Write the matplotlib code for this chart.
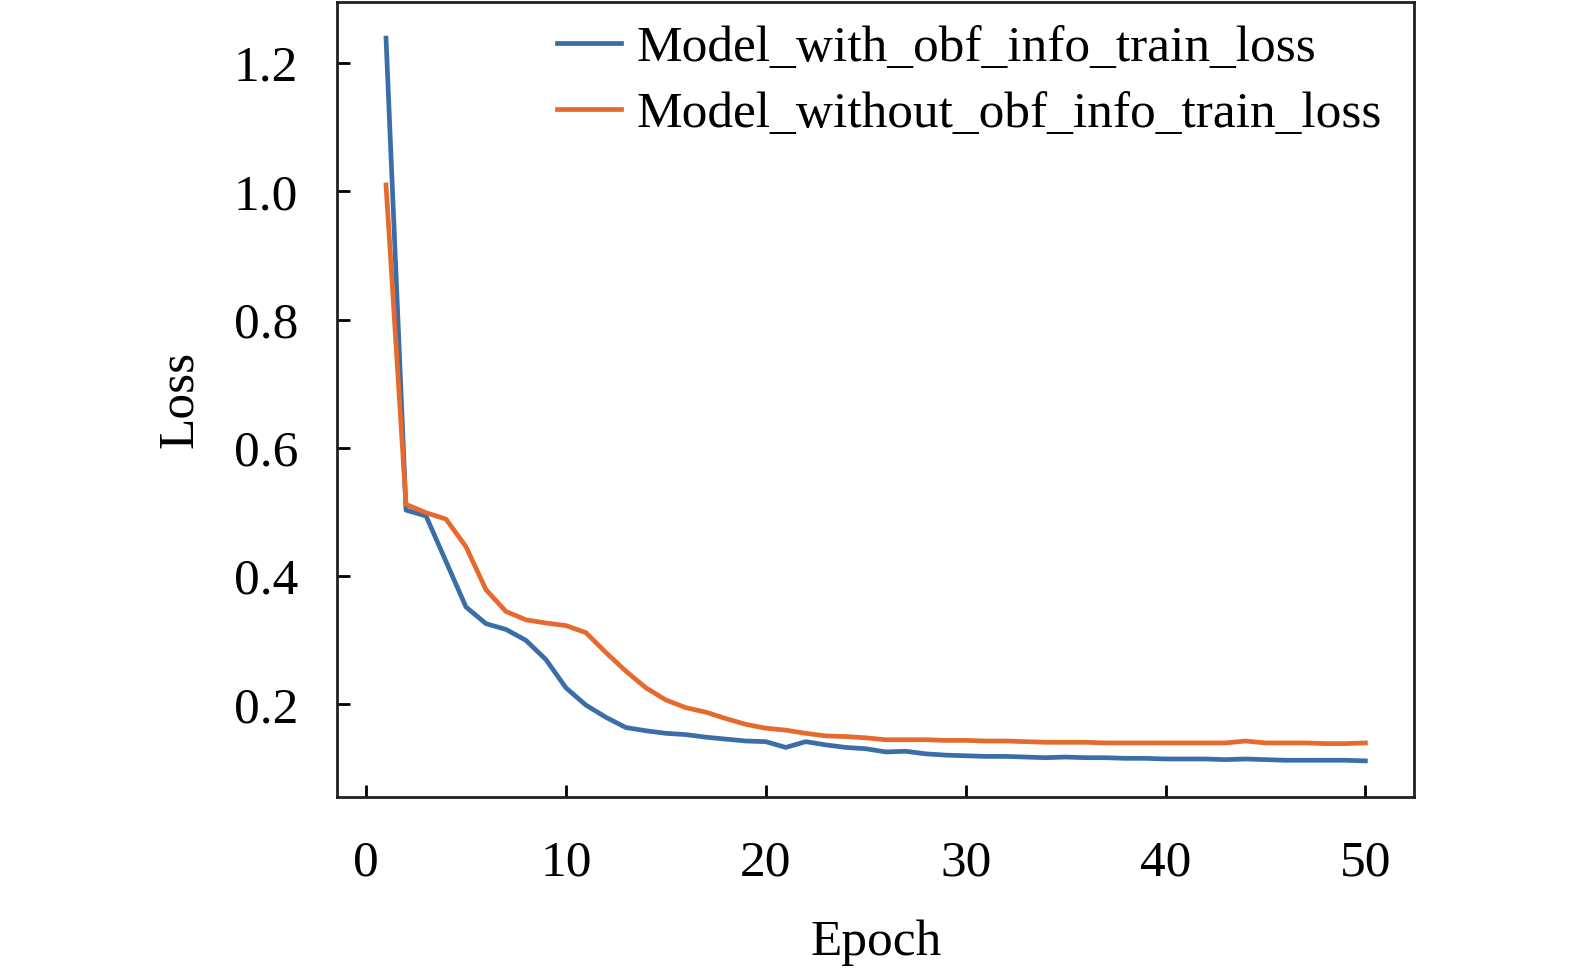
import matplotlib
matplotlib.use("Agg")
import matplotlib.pyplot as plt

epochs = list(range(1, 51))

with_obf_loss = [
    1.239, 0.503, 0.494, 0.423, 0.352, 0.326, 0.317, 0.300, 0.270, 0.226,
    0.199, 0.180, 0.164, 0.159, 0.155, 0.153, 0.149, 0.146, 0.143, 0.142,
    0.133, 0.142, 0.137, 0.133, 0.131, 0.126, 0.127, 0.123, 0.121, 0.120,
    0.119, 0.119, 0.118, 0.117, 0.118, 0.117, 0.117, 0.116, 0.116, 0.115,
    0.115, 0.115, 0.114, 0.115, 0.114, 0.113, 0.113, 0.113, 0.113, 0.112,
]

without_obf_loss = [
    1.010, 0.512, 0.499, 0.489, 0.446, 0.379, 0.345, 0.332, 0.327, 0.323,
    0.312, 0.281, 0.252, 0.226, 0.207, 0.195, 0.188, 0.178, 0.169, 0.163,
    0.160, 0.155, 0.151, 0.150, 0.148, 0.145, 0.145, 0.145, 0.144, 0.144,
    0.143, 0.143, 0.142, 0.141, 0.141, 0.141, 0.140, 0.140, 0.140, 0.140,
    0.140, 0.140, 0.140, 0.143, 0.140, 0.140, 0.140, 0.139, 0.139, 0.140,
]

labels = ["Model_with_obf_info_train_loss", "Model_without_obf_info_train_loss"]

plt.rcParams['font.family'] = ['Liberation Serif', 'DejaVu Serif']
plt.rcParams['font.size'] = 37

fig = plt.figure(figsize=(15.75, 9.72), dpi=100)
ax = fig.add_axes([0.214, 0.180, 0.684, 0.818])

ax.plot(epochs, with_obf_loss, color='#3b6ea8', lw=3.4, label=labels[0])
ax.plot(epochs, without_obf_loss, color='#e6692e', lw=3.4, label=labels[1])

ax.set_xticks([0, 10, 20, 30, 40, 50])
ax.set_yticks([0.2, 0.4, 0.6, 0.8, 1.0, 1.2])
ax.tick_params(direction='in', length=9, width=2, top=False, right=False)
ax.tick_params(axis='x', pad=31)
ax.tick_params(axis='y', pad=28)
for s in ax.spines.values():
    s.set_linewidth(2)
    s.set_color('#231f20')

ax.set_xlabel("Epoch", labelpad=24)
ax.set_ylabel("Loss", labelpad=22)

ax.legend(loc='upper right', frameon=False, handlelength=1.25, handletextpad=0.3,
          labelspacing=0.38, borderaxespad=0.0, bbox_to_anchor=(0.989, 0.997))

fig.savefig("out.png", dpi=100)
